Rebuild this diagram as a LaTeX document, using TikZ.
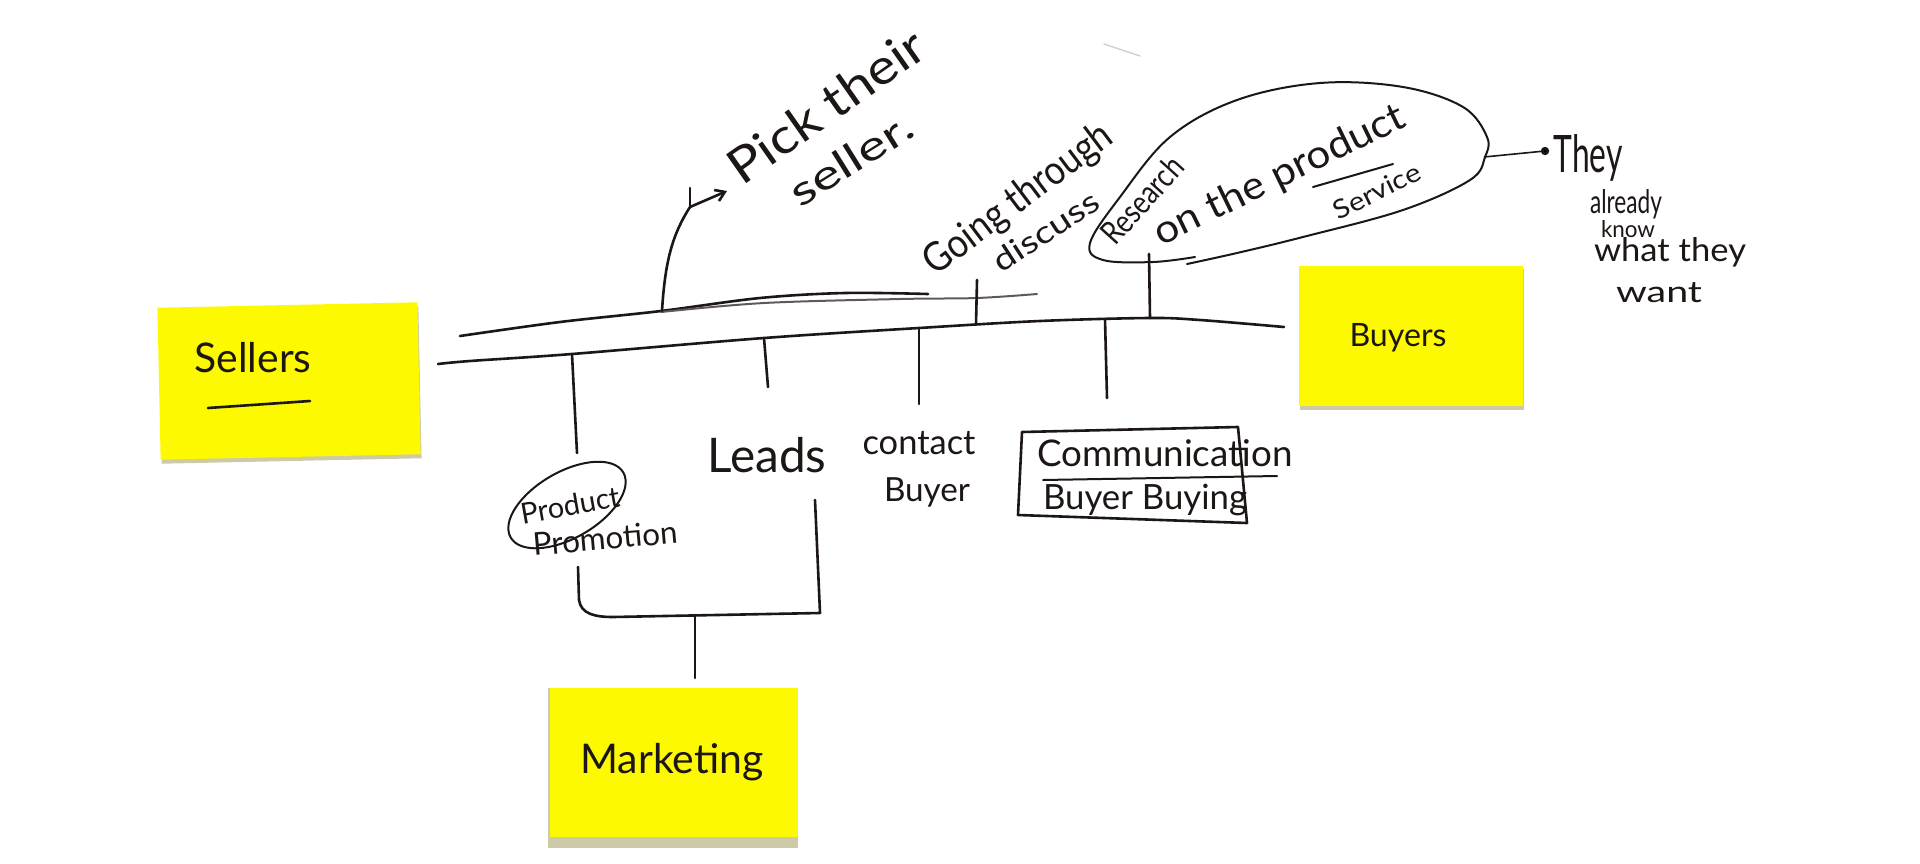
\documentclass[tikz,border=0pt]{standalone}
\usepackage{fontspec}
\setmainfont{Lato}
\usepackage{graphicx}
\usetikzlibrary{arrows.meta}

\definecolor{ink}{RGB}{28,22,20}
\definecolor{inkgray}{RGB}{95,90,88}
\definecolor{postit}{RGB}{253,249,0}
\definecolor{postitedge}{RGB}{205,202,170}

\newcommand{\hw}[2]{\resizebox{#1pt}{!}{#2}}
\newcommand{\hwh}[3]{\resizebox{#1pt}{#2pt}{#3}}

\begin{document}
\begin{tikzpicture}[x=1pt,y=-1pt,
  ink/.style={draw=ink, line width=2.6pt, line cap=round, line join=round},
  inkthin/.style={draw=ink, line width=2pt, line cap=round, line join=round},
  sticky/.style={fill=postit, draw=none, inner sep=0pt},
  stickyshadow/.style={fill=postitedge, draw=none, inner sep=0pt},
  hand/.style={text=ink, inner sep=0pt, font=\fontsize{20}{24}\selectfont},
]
\fill[white] (0,0) rectangle (1920,863);
\useasboundingbox (0,0) rectangle (1920,863);

% faint stray mark at the top
\draw[gray!35, line width=1.5pt, line cap=round] (1104,44) -- (1140,56);

% ---------- sticky notes ----------
\node[stickyshadow, minimum width=260pt, minimum height=152pt, rotate=1.2] at (290,385) {};
\node[sticky, minimum width=260pt, minimum height=152pt, rotate=1.2] (sellers) at (289,381) {};
\node[stickyshadow, minimum width=224pt, minimum height=141pt] at (1412,339) {};
\node[sticky, minimum width=224pt, minimum height=140pt] (buyers) at (1411,336) {};
\node[stickyshadow, minimum width=250pt, minimum height=160pt] at (673,768) {};
\node[sticky, minimum width=248pt, minimum height=149pt] (marketing) at (674,762) {};

\node[hand] (sellerstxt) at (253,358) {\hw{117}{Sellers}};
\draw[ink] (208,408) -- (310,401);
\node[hand] (buyerstxt) at (1398,338) {\hw{97}{Buyers}};
\node[hand] (marketingtxt) at (672,762) {\hw{183}{Marketing}};

% ---------- main bus ----------
\coordinate (busL) at (438,364);
\coordinate (busR) at (1284,327);
\coordinate (pd) at (572,354);
\coordinate (ld) at (764,338);
\coordinate (cd) at (919,328);
\coordinate (gt) at (976,324.5);
\coordinate (cm) at (1105,319);
\coordinate (rs) at (1150,318);
\draw[ink] plot[smooth, tension=0.55] coordinates {(438,364) (470,361) (572,354) (764,338) (919,328) (1040,321) (1150,318) (1200,320) (1284,327)};

% upper strokes
\draw[ink] plot[smooth, tension=0.55] coordinates {(460,336) (560,322) (661,311) (760,298) (845,293) (928,294)};
\draw[draw=inkgray, line width=2pt, line cap=round] plot[smooth, tension=0.55] coordinates {(661,312) (764,303) (900,299) (977,298) (1037,294)};

% ---------- Pick their seller ----------
\coordinate (pickbase) at (662,311);
\coordinate (pickhook) at (690,207);
\coordinate (picktip) at (727,191);
\draw[ink] (pickbase) .. controls (665,262) and (672,235) .. (pickhook);
\draw[ink] (pickhook) -- (690,188);
\draw[ink, -{Straight Barb[length=9pt,width=12pt]}] (pickhook) -- (picktip);
\node[hand, rotate=35] (pick) at (826,106) {\hwh{230}{36}{Pick their}};
\node[hand, rotate=32] (seller) at (851,159) {\hwh{138}{30}{seller.}};

% ---------- Going through discuss ----------
\node[hand, rotate=37] (going) at (1019,200) {\hwh{225}{30}{Going through}};
\node[hand, rotate=33] (discuss) at (1046,231) {\hwh{120}{23}{discuss}};
\coordinate (gttop) at (977,280);
\draw[ink] (gttop) -- (gt);

% ---------- Research balloon ----------
\draw[inkthin] plot[smooth, tension=0.6] coordinates {(1195,257) (1153,262) (1103,260) (1090,243) (1120,197) (1170,137) (1237,100) (1320,83) (1403,87) (1463,107) (1487,137) (1485,157) (1470,180) (1403,210) (1303,237) (1237,253) (1187,264)};
\node[hand, rotate=48] (research) at (1142,200) {\hwh{105}{24}{Research}};
\node[hand, rotate=26] (onthe) at (1280,176) {\hwh{275}{29}{on the product}};
\draw[inkthin] (1313,187) -- (1393,164);
\node[hand, rotate=26] (service) at (1377,191) {\hwh{94}{19}{Service}};
\coordinate (rstop) at (1149,254);
\draw[ink] (rstop) -- (rs);

% ---------- They already know ----------
\coordinate (balloonR) at (1484,157);
\coordinate (theydot) at (1545,151);
\draw[draw=ink, line width=1.6pt] (balloonR) -- (theydot);
\fill[ink] (theydot) circle (2.8);
\node[hand] (they) at (1588,158) {\hwh{69}{38}{They}};
\node[hand] (already) at (1626,204) {\hwh{72}{24}{already}};
\node[hand] (know) at (1628,229) {\hwh{54}{17}{know}};
\node[hand] (whatthey) at (1670,252) {\hwh{152}{24}{what they}};
\node[hand] (want) at (1659,293) {\hwh{86}{20}{want}};

% ---------- drops ----------
\coordinate (pdend) at (577,453);
\coordinate (ldend) at (768,387);
\coordinate (cdend) at (919,404);
\coordinate (cmend) at (1107,398);
\draw[ink] (pd) -- (pdend);
\draw[ink] (ld) -- (ldend);
\draw[ink] (cd) -- (cdend);
\draw[ink] (cm) -- (cmend);

\node[hand] (leads) at (767,455) {\hw{119}{Leads}};
\node[hand] (contact) at (919,443) {\hw{113}{contact}};
\node[hand] (buyer) at (927,492) {\hw{86}{Buyer}};

% communication box
\draw[ink] (1022,432) -- (1238,427) -- (1247,523) -- (1018,515) -- cycle;
\node[hand] (comm) at (1165,453) {\hw{255}{Communication}};
\draw[inkthin] (1043,480) -- (1277,476);
\node[hand] (buying) at (1145,500) {\hw{204}{Buyer Buying}};

% product promotion
\draw[inkthin, rotate around={30:(567,505)}] (567,505) ellipse [x radius=65, y radius=33];
\node[hand, rotate=10] (product) at (570,505) {\hw{100}{Product}};
\node[hand, rotate=5] (promotion) at (605,538) {\hw{145}{Promotion}};

% ---------- to marketing ----------
\coordinate (prL) at (578,567);
\coordinate (leadsR) at (815,500);
\coordinate (join) at (695,616);
\coordinate (mktop) at (695,678);
\draw[ink] (prL) -- (579,600) .. controls (581,614) and (595,617) .. (613,617) -- (820,613) -- (leadsR);
\draw[ink] (join) -- (mktop);
\end{tikzpicture}
\end{document}
